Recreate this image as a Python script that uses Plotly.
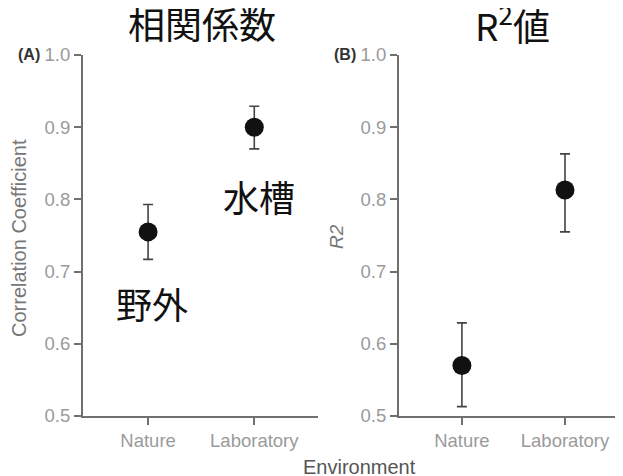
import plotly.graph_objects as go

categories = ["Nature", "Laboratory"]
corr_mean = [0.755, 0.900]
corr_low = [0.717, 0.870]
corr_high = [0.793, 0.929]
r2_mean = [0.570, 0.813]
r2_low = [0.513, 0.755]
r2_high = [0.629, 0.863]
y_ticks = [0.5, 0.6, 0.7, 0.8, 0.9, 1.0]

W, H = 623, 476
OFF = 8  # page body margin offset
xpos = list(range(len(categories)))


def px(x):
    return (x - OFF) / W


def py(y):
    return 1 - (y - OFF) / H


def err(mean, low, high):
    return dict(type="data", symmetric=False,
                array=[h - m for m, h in zip(mean, high)],
                arrayminus=[m - l for m, l in zip(mean, low)],
                color="#444444", thickness=1.6, width=5)


fig = go.Figure()
fig.add_trace(go.Scatter(x=xpos, y=corr_mean, mode="markers", xaxis="x", yaxis="y",
                         marker=dict(size=19, color="#111111"),
                         error_y=err(corr_mean, corr_low, corr_high), showlegend=False))
fig.add_trace(go.Scatter(x=xpos, y=r2_mean, mode="markers", xaxis="x2", yaxis="y2",
                         marker=dict(size=19, color="#111111"),
                         error_y=err(r2_mean, r2_low, r2_high), showlegend=False))

tickfont = dict(family="Liberation Sans, Arial", size=18.5, color="#9a9a9a")
common_x = dict(showline=True, linecolor="#707070", linewidth=2, ticks="outside",
                ticklen=7, tickcolor="#707070", tickwidth=1.5, showgrid=False, zeroline=False,
                tickvals=xpos, ticktext=categories, tickfont=tickfont, automargin=False)
common_y = dict(showline=True, linecolor="#707070", linewidth=2, ticks="outside",
                ticklen=7, tickcolor="#707070", tickwidth=1.5, showgrid=False, zeroline=False,
                range=[0.5, 1.0], tickvals=y_ticks, tickformat=".1f", tickfont=tickfont,
                domain=[py(416), py(55)], automargin=False)

fig.update_layout(
    template="none",
    width=W, height=H, margin=dict(l=0, r=0, t=0, b=0, autoexpand=False),
    paper_bgcolor="white", plot_bgcolor="white",
    xaxis=dict(domain=[px(83), px(318)], range=[-0.613, 1.6], anchor="y", **common_x),
    yaxis=dict(anchor="x", **common_y),
    xaxis2=dict(domain=[px(399), 1.0], range=[-0.61, 1.64], anchor="y2", **common_x),
    yaxis2=dict(anchor="x2", **common_y),
)

jp = "Noto Sans CJK JP"
lat = "Liberation Sans, Arial"
ann = [
    dict(text="相関係数", x=202, y=23, size=37, color="#111111", family=jp),
    dict(text="R<sup>2</sup>値", x=512, y=23, size=37, color="#111111", family=jp),
    dict(text="水槽", x=259, y=196, size=36, color="#111111", family=jp),
    dict(text="野外", x=152, y=303, size=36, color="#111111", family=jp),
    dict(text="<b>(A)</b>", x=29, y=55, size=16, color="#333333", family=lat),
    dict(text="<b>(B)</b>", x=345, y=55, size=16, color="#333333", family=lat),
    dict(text="Environment", x=359, y=467, size=20, color="#555555", family=lat),
]
for a in ann:
    fig.add_annotation(text=a["text"], x=px(a["x"]), y=py(a["y"]), xref="paper", yref="paper",
                       showarrow=False, xanchor="center", yanchor="middle",
                       font=dict(size=a["size"], color=a["color"], family=a["family"]))

fig.add_annotation(text="Correlation Coefficient", x=px(19), y=py(238), xref="paper", yref="paper",
                   showarrow=False, textangle=-90, xanchor="center", yanchor="middle",
                   font=dict(size=20, color="#777777", family=lat))
fig.add_annotation(text="<i>R2</i>", x=px(336), y=py(237), xref="paper", yref="paper",
                   showarrow=False, textangle=-90, xanchor="center", yanchor="middle",
                   font=dict(size=19, color="#777777", family=lat))

fig.write_html("out.html")
